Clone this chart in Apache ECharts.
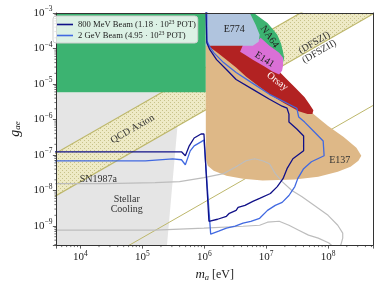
<!DOCTYPE html>
<html><head><meta charset="utf-8">
<script src="https://cdn.jsdelivr.net/npm/echarts@6/dist/echarts.min.js"></script>
<style>html,body{margin:0;padding:0;background:#fff}#c{width:382px;height:287px}</style>
</head><body><div id="c"></div>
<script>
const FONT = 'Liberation Serif';
// axis ranges: m_a [eV] and g_ae
const xRange = [4.1e3, 5.3e8];
const yRange = [2.9e-10, 1e-3];
const minorFactors = [2, 3, 4, 5, 6, 7, 8, 9];

// sensitivity contours [m_a (eV), g_ae]
const beam800 = [[1.06e6,1.67e-3],[1.10e6,1.45e-4],[1.23e6,9.25e-5],[1.58e6,4.86e-5],[2.28e6,2.56e-5],[3.27e6,1.34e-5],[6.08e6,7.06e-6],[1.13e7,3.72e-6],[1.81e7,2.37e-6],[2.17e7,2.08e-6],[2.33e7,1.42e-6],[2.33e7,8.45e-7],[3.12e7,5.40e-7],[4.02e7,3.44e-7],[4.02e7,1.31e-7],[2.70e7,7.83e-8],[2.17e7,4.12e-8],[1.87e7,2.16e-8],[1.51e7,1.29e-8],[1.17e7,8.24e-9],[7.84e6,5.98e-9],[6.08e6,4.93e-9],[4.55e6,3.81e-9],[3.52e6,3.35e-9],[3.27e6,2.76e-9],[2.54e6,2.28e-9],[2.28e6,1.88e-9],[1.64e6,1.55e-9],[1.19e6,1.36e-9],[9.89e5,3.91e-7],[8.87e5,3.91e-7],[6.87e5,3.02e-7],[5.73e5,1.81e-7],[4.95e5,9.51e-8],[4.29e5,1.23e-7],[3.33e5,1.23e-7],[2.61e4,1.23e-7],[2.96e3,1.23e-7]];
const beam2000 = [[1.10e6,1.67e-3],[1.10e6,1.65e-4],[1.23e6,1.12e-4],[1.42e6,7.64e-5],[2.05e6,4.01e-5],[3.27e6,2.11e-5],[6.08e6,1.04e-5],[1.13e7,5.12e-6],[2.17e7,2.87e-6],[3.12e7,2.08e-6],[3.35e7,1.17e-6],[4.17e7,8.45e-7],[6.00e7,4.45e-7],[8.32e7,2.49e-7],[8.61e7,9.51e-8],[5.37e7,6.46e-8],[4.02e7,4.12e-8],[3.23e7,2.16e-8],[2.90e7,1.29e-8],[2.33e7,7.24e-9],[1.81e7,4.62e-9],[1.40e7,3.81e-9],[1.05e7,2.76e-9],[7.84e6,1.65e-9],[5.65e6,1.36e-9],[4.23e6,1.20e-9],[3.16e6,9.86e-10],[2.28e6,8.69e-10],[1.71e6,7.16e-10],[1.27e6,5.90e-10],[1.19e6,5.53e-10],[9.89e5,2.66e-7],[8.87e5,2.34e-7],[6.87e5,1.81e-7],[5.94e5,1.31e-7],[4.95e5,5.32e-8],[4.29e5,7.35e-8],[3.09e5,7.83e-8],[1.12e5,6.88e-8],[2.96e3,6.88e-8]];
const sn1987aUpper = [[2.96e3,1.57e-8],[2.61e4,1.57e-8],[1.61e5,1.67e-8],[3.99e5,1.78e-8],[9.89e5,2.31e-8],[2.05e6,2.99e-8],[3.27e6,4.68e-8],[4.71e6,6.88e-8],[6.53e6,7.83e-8],[8.75e6,6.88e-8],[1.13e7,5.68e-8],[1.40e7,2.99e-8],[1.81e7,1.78e-8],[2.60e7,1.00e-8],[3.74e7,6.79e-9],[6.00e7,3.81e-9],[9.98e7,2.00e-9],[1.43e8,1.05e-9],[1.72e8,6.30e-10],[1.72e8,4.56e-10],[1.60e8,2.91e-10],[1.43e8,1.74e-10]];
const sn1987aLower = [[2.96e3,7.64e-10],[1.61e5,7.64e-10],[9.89e5,8.69e-10],[4.23e6,9.86e-10],[7.84e6,1.05e-9],[1.05e7,1.28e-9],[1.62e7,1.36e-9],[2.33e7,1.05e-9],[3.35e7,7.64e-10],[4.82e7,5.53e-10],[6.93e7,4.56e-10],[1.03e8,3.31e-10],[1.38e8,2.11e-10]];
const qcdUpper = [[1e3,2.8e-8],[1e9,2.8e-2]];
const qcdLower = [[1e3,1.77e-9],[1e9,1.77e-3]];
const dfszLine = [[1e3,4.68e-12],[1e9,4.68e-6]];

// excluded regions
const greenRegion = [[1e3,5.82e-6],[1.06e6,5.82e-6],[1.06e6,1e-2],[1e3,1e-2]];
const stellarCooling = [[1e3,5.82e-6],[4.13e5,5.82e-6],[2.40e5,1.26e-10],[1e3,1.26e-10]];
const e137 = [[1.06e6,1.76e-4],[1.06e6,7.83e-8],[1.14e6,4.99e-8],[1.42e6,3.62e-8],[2.28e6,2.62e-8],[4.23e6,2.16e-8],[8.75e6,1.90e-8],[2.90e7,2.03e-8],[6.93e7,2.46e-8],[1.43e8,3.40e-8],[2.30e8,4.68e-8],[3.08e8,6.88e-8],[3.43e8,9.51e-8],[2.86e8,1.59e-7],[1.78e8,3.22e-7],[9.98e7,6.55e-7],[5.78e7,1.42e-6],[3.74e7,2.87e-6],[1.26e7,6.21e-6],[4.23e6,2.56e-5],[1.71e6,8.15e-5],[1.19e6,1.28e-4]];
const orsay = [[1.10e6,1.36e-4],[4.23e6,1.36e-4],[8.13e6,9.25e-5],[1.26e7,3.31e-5],[1.62e7,2.25e-5],[2.17e7,1.34e-5],[2.90e7,8.04e-6],[4.17e7,4.23e-6],[5.00e7,2.69e-6],[5.78e7,1.83e-6],[5.57e7,1.42e-6],[4.65e7,1.42e-6],[3.35e7,1.72e-6],[1.95e7,2.87e-6],[1.13e7,5.12e-6],[7.29e6,9.14e-6],[4.71e6,1.63e-5],[3.27e6,2.91e-5],[2.28e6,4.86e-5],[1.64e6,7.64e-5],[1.27e6,1.05e-4]];
const na64 = [[4.23e6,1.67e-3],[5.65e6,1.67e-3],[6.31e6,1.0e-3],[8.13e6,7.24e-4],[1.05e7,5.26e-4],[1.30e7,3.35e-4],[1.51e7,2.43e-4],[1.74e7,1.36e-4],[1.87e7,8.15e-5],[1.95e7,5.53e-5],[1.87e7,4.01e-5],[1.26e7,4.86e-5],[6.08e6,1.05e-4],[4.23e6,1.20e-4]];
const e141 = [[3.79e6,8.15e-5],[4.23e6,1.28e-4],[7.57e6,1.76e-4],[8.13e6,2.00e-4],[1.13e7,1.20e-4],[1.62e7,7.64e-5],[1.87e7,5.53e-5],[1.87e7,3.31e-5],[1.81e7,2.40e-5],[1.62e7,1.85e-5],[1.26e7,2.25e-5],[9.40e6,3.10e-5],[6.08e6,4.86e-5],[4.55e6,6.71e-5]];
const e774 = [[1.06e6,1e-2],[5.45e6,1e-2],[5.45e6,1e-3],[6.78e6,4.62e-4],[7.84e6,2.43e-4],[7.55e6,1.55e-4],[6.08e6,1.20e-4],[3.52e6,1.20e-4],[1.71e6,1.20e-4],[1.06e6,1.20e-4]];

// annotations
const regionLabels = [
  {text:'E774', at:[3.05e6,3.57e-4], rot:0, color:'#222'},
  {text:'NA64', at:[1.13e7,2.14e-4], rot:-55, color:'#222'},
  {text:'E141', at:[9.40e6,4.86e-5], rot:-32, color:'#222'},
  {text:'Orsay', at:[1.51e7,1.18e-5], rot:-37, color:'#fff'},
  {text:'(DFSZI)', at:[6.00e7,1.45e-4], rot:30, color:'#333'},
  {text:'(DFSZII)', at:[7.20e7,8.15e-5], rot:30, color:'#333'},
  {text:'QCD Axion', at:[6.97e4,5.40e-7], rot:30, color:'#333'},
  {text:'SN1987a', at:[1.95e4,2.03e-8], rot:0, color:'#333'},
  {text:'Stellar\nCooling', at:[5.61e4,4.06e-9], rot:0, color:'#333'},
  {text:'E137', at:[1.54e8,6.88e-8], rot:0, color:'#333'}
];
const legendText = {
  '800 MeV Beam': '800 MeV Beam (1.18 · 10{s|23} POT)',
  '2 GeV Beam': '2 GeV Beam (4.95 · 10{s|23} POT)'
};

function hatchPattern() {
  const c = document.createElement('canvas');
  c.width = 4; c.height = 4;
  const g = c.getContext('2d');
  g.fillStyle = '#eeeac6'; g.fillRect(0, 0, 4, 4);
  g.fillStyle = '#c8c28a'; g.fillRect(0, 0, 1, 1); g.fillRect(2, 2, 1, 1);
  return c;
}
const hatch = {image: hatchPattern(), repeat: 'repeat'};

function polySeries(name, pts, fill, z, stroke) {
  return {
    type: 'custom', name, data: pts, clip: true, z, silent: true, animation: false,
    renderItem(params, api) {
      if (params.dataIndex !== 0) return null;
      return {type: 'polygon', shape: {points: pts.map(p => api.coord(p))},
        style: {fill, stroke: stroke || 'none', lineWidth: 0}};
    }
  };
}
function lineSeries(name, pts, color, width, z) {
  return {type: 'line', name, data: pts, showSymbol: false, symbol: 'none', clip: true, z,
    silent: true, animation: false, lineStyle: {color, width}, itemStyle: {color}};
}
function expLabel(v) {
  const l = Math.log10(v), e = Math.round(l);
  if (Math.abs(l - e) > 1e-6) return '';
  return '{b|10}{s|' + (e < 0 ? '\u2212' + (-e) : e) + '}';
}
const tickRich = {
  b: {fontFamily: FONT, fontSize: 11, color: '#222'},
  s: {fontFamily: FONT, fontSize: 7.5, color: '#222', padding: [0, 0, 7, 0]}
};

const qcdBand = qcdUpper.concat(qcdLower.slice().reverse());

const chart = echarts.init(document.getElementById('c'), null, {renderer: 'canvas'});
chart.setOption({
  backgroundColor: '#fff',
  animation: false,
  grid: {left: 49, right: 9, top: 13, bottom: 40},
  xAxis: [{
    type: 'log', logBase: 10, min: xRange[0], max: xRange[1], z: 50,
    axisLine: {show: true, onZero: false, lineStyle: {color: '#333', width: 1}},
    axisTick: {show: true, length: 3.5, lineStyle: {color: '#333', width: 0.8}},
    axisLabel: {formatter: expLabel, rich: tickRich, margin: 5, showMinLabel: true, showMaxLabel: true},
    splitLine: {show: false},
    name: '{i|m}{sub|a} [eV]', nameLocation: 'middle', nameGap: 17,
    nameTextStyle: {fontFamily: FONT, fontSize: 12, color: '#222',
      rich: {i: {fontFamily: FONT, fontSize: 13, fontStyle: 'italic', color: '#222'},
             sub: {fontFamily: FONT, fontSize: 8.5, fontStyle: 'italic', color: '#222', padding: [6, 0, 0, 0]}}}
  }, {
    type: 'log', logBase: 10, min: xRange[0], max: xRange[1], position: 'top', z: 50,
    axisLine: {show: true, onZero: false, lineStyle: {color: '#333', width: 1}},
    axisTick: {show: false}, axisLabel: {show: false}, splitLine: {show: false}
  }],
  yAxis: [{
    type: 'log', logBase: 10, min: yRange[0], max: yRange[1], z: 50,
    axisLine: {show: true, onZero: false, lineStyle: {color: '#333', width: 1}},
    axisTick: {show: true, length: 3.5, lineStyle: {color: '#333', width: 0.8}},
    axisLabel: {formatter: expLabel, rich: tickRich, margin: 4},
    splitLine: {show: false},
    name: '{i|g}{sub|ae}', nameLocation: 'middle', nameGap: 24, nameRotate: 90,
    nameTextStyle: {fontFamily: FONT, fontSize: 12, color: '#222',
      rich: {i: {fontFamily: FONT, fontSize: 14, fontStyle: 'italic', color: '#222'},
             sub: {fontFamily: FONT, fontSize: 9, fontStyle: 'italic', color: '#222', padding: [6, 0, 0, 0]}}}
  }, {
    type: 'log', logBase: 10, min: yRange[0], max: yRange[1], position: 'right', z: 50,
    axisLine: {show: true, onZero: false, lineStyle: {color: '#333', width: 1}},
    axisTick: {show: false}, axisLabel: {show: false}, splitLine: {show: false}
  }],
  legend: {
    data: ['800 MeV Beam', '2 GeV Beam'], left: 53, top: 16, orient: 'vertical', z: 60,
    itemGap: 1, itemWidth: 16, itemHeight: 1.6, icon: 'rect', selectedMode: false,
    padding: [3, 2, 3, 4], backgroundColor: 'rgba(255,255,255,0.82)',
    borderColor: '#cfcfcf', borderWidth: 1, borderRadius: 3,
    formatter: n => legendText[n],
    textStyle: {fontFamily: FONT, fontSize: 8.6, color: '#222',
      rich: {s: {fontFamily: FONT, fontSize: 5.8, color: '#222', padding: [0, 0, 5, 0]}}}
  },
  series: [
    polySeries('Stellar Cooling', stellarCooling, '#e5e5e5', 1),
    polySeries('QCD band', qcdBand, hatch, 2),
    lineSeries('QCD upper', qcdUpper, '#bdb76b', 1.2, 3),
    lineSeries('QCD lower', qcdLower, '#bdb76b', 1.2, 3),
    lineSeries('DFSZII', dfszLine, '#bdb76b', 1, 3),
    polySeries('Green', greenRegion, '#3cb371', 4),
    polySeries('E137', e137, '#deb887', 5),
    polySeries('Orsay', orsay, '#b22222', 6),
    polySeries('NA64', na64, '#3cb371', 7),
    polySeries('E141', e141, '#da70d6', 8),
    polySeries('E774', e774, '#b0c4de', 9),
    lineSeries('SN upper', sn1987aUpper, '#bdbdbd', 1.2, 10),
    lineSeries('SN lower', sn1987aLower, '#bdbdbd', 1.2, 10),
    lineSeries('2 GeV Beam', beam2000, '#4169e1', 1.3, 11),
    lineSeries('800 MeV Beam', beam800, '#101088', 1.3, 12),
    {
      type: 'custom', name: 'labels', data: regionLabels.map(l => l.at), clip: false, z: 40,
      silent: true, animation: false,
      renderItem(params, api) {
        const l = regionLabels[params.dataIndex];
        const p = api.coord(l.at);
        return {type: 'text', x: p[0], y: p[1], rotation: l.rot * Math.PI / 180,
          style: {text: l.text, fill: l.color, fontFamily: FONT, fontSize: 10, lineHeight: 10,
            align: 'center', verticalAlign: 'middle'}};
      }
    },
    {
      type: 'custom', name: 'minor ticks', data: [xRange], clip: false, z: 50,
      silent: true, animation: false,
      renderItem(params, api) {
        const kids = [];
        for (let n = 3; n <= 8; n++) for (const f of minorFactors) {
          const v = f * Math.pow(10, n);
          if (v < xRange[0] || v > xRange[1]) continue;
          const p = api.coord([v, yRange[0]]);
          kids.push({type: 'line', shape: {x1: p[0], y1: p[1], x2: p[0], y2: p[1] + 2},
            style: {stroke: '#333', lineWidth: 0.7}});
        }
        for (let n = -10; n <= -4; n++) for (const f of minorFactors) {
          const v = f * Math.pow(10, n);
          if (v < yRange[0] || v > yRange[1]) continue;
          const p = api.coord([xRange[0], v]);
          kids.push({type: 'line', shape: {x1: p[0], y1: p[1], x2: p[0] - 2, y2: p[1]},
            style: {stroke: '#333', lineWidth: 0.7}});
        }
        return {type: 'group', children: kids};
      }
    }
  ]
});
</script></body></html>
